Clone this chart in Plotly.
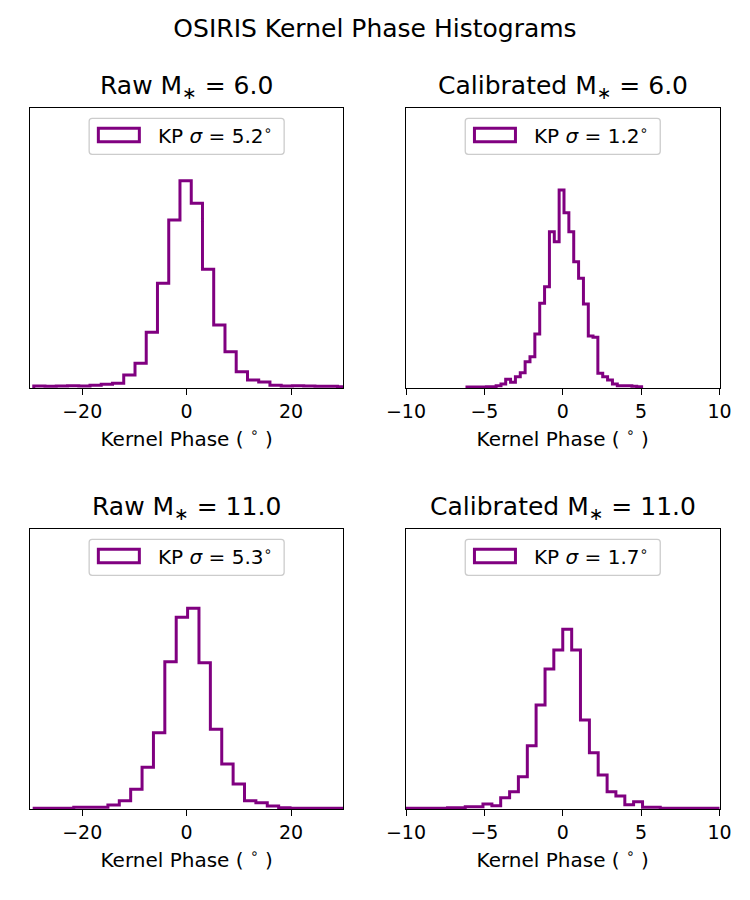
import plotly.graph_objects as go

# ---------------- data ----------------
# Raw M* = 6.0  (top-left)
raw6_edges = [-29.28, -27.13, -24.97, -22.82, -20.66, -18.51, -16.36, -14.20, -12.05, -9.89,
              -7.74, -5.59, -3.43, -1.28, 0.88, 3.03, 5.18, 7.34, 9.49, 11.65,
              13.80, 15.95, 18.11, 20.26, 22.42, 24.57, 26.72, 28.88, 31.03]
raw6_counts = [7, 6, 7, 8, 7, 9, 12, 15, 40, 75, 168, 315, 505, 623, 555, 357, 190, 110, 50, 25,
               19, 9, 7, 8, 7, 6, 6, 5]

# Calibrated M* = 6.0  (top-right)
cal6_edges = [-6.11, -5.80, -5.49, -5.18, -4.87, -4.56, -4.25, -3.94, -3.64, -3.33,
              -3.02, -2.71, -2.40, -2.09, -1.78, -1.47, -1.16, -0.85, -0.54, -0.23,
              0.08, 0.39, 0.70, 1.01, 1.32, 1.63, 1.93, 2.24, 2.55, 2.86,
              3.17, 3.48, 3.79, 4.10, 4.41, 4.72, 5.03]
cal6_counts = [4, 4, 4, 4, 5, 5, 8, 13, 27, 18, 35, 47, 80, 95, 163, 255, 305, 470, 440, 595,
               527, 470, 380, 330, 253, 157, 153, 45, 35, 25, 13, 8, 8, 8, 6, 5]

# Raw M* = 11.0  (bottom-left)
raw11_edges = [-29.20, -28.16, -25.98, -23.80, -21.62, -19.44, -17.26, -15.08, -12.90, -10.72,
               -8.54, -6.36, -4.18, -2.00, 0.18, 2.36, 4.54, 6.72, 8.90, 11.08,
               13.26, 15.44, 17.62, 19.80, 21.98, 24.16, 26.34, 28.52, 30.70]
raw11_counts = [3, 3, 3, 3, 6, 6, 6, 13, 26, 60, 126, 230, 443, 576, 603, 440, 240, 136, 76, 26,
                20, 10, 5, 3, 3, 3, 3, 3]

# Calibrated M* = 11.0  (bottom-right)
cal11_edges = [-10.17, -9.61, -9.04, -8.48, -7.91, -7.35, -6.78, -6.22, -5.65, -5.09,
               -4.52, -3.96, -3.39, -2.83, -2.26, -1.70, -1.13, -0.57, 0.00, 0.57,
               1.13, 1.70, 2.26, 2.83, 3.39, 3.96, 4.52, 5.09, 5.65, 6.22,
               6.78, 7.35, 7.91, 8.48, 9.04, 9.61, 10.17]
cal11_counts = [3, 3, 3, 3, 3, 5, 5, 8, 8, 16, 11, 35, 53, 98, 191, 313, 421, 478, 540, 478,
                268, 170, 103, 53, 40, 14, 23, 6, 6, 3, 3, 3, 3, 3, 3, 3]

panel_titles = ["Raw M<sub>∗</sub> = 6.0", "Calibrated M<sub>∗</sub> = 6.0",
                "Raw M<sub>∗</sub> = 11.0", "Calibrated M<sub>∗</sub> = 11.0"]
legend_labels = ["KP <i>σ</i> = 5.2<sup>∘</sup>", "KP <i>σ</i> = 1.2<sup>∘</sup>",
                 "KP <i>σ</i> = 5.3<sup>∘</sup>", "KP <i>σ</i> = 1.7<sup>∘</sup>"]
raw_ticks = [-20, 0, 20]
cal_ticks = [-10, -5, 0, 5, 10]

# ---------------- layout geometry (px) ----------------
W, H = 750, 900
FONT = "DejaVu Sans"
PURPLE = "#800080"
cols = [(30.0, 343.3), (406.0, 719.5)]
rows = [(107.7, 388.3), (528.7, 809.3)]
y_top = 842

panels = [
    (raw6_edges, raw6_counts, 0, 0, [-30, 30], raw_ticks),
    (cal6_edges, cal6_counts, 0, 1, [-10, 10], cal_ticks),
    (raw11_edges, raw11_counts, 1, 0, [-30, 30], raw_ticks),
    (cal11_edges, cal11_counts, 1, 1, [-10, 10], cal_ticks),
]

def px_x(x):
    return x / W

def px_y(y):
    return 1 - y / H

def tick_text(v):
    return ("−" + str(abs(v))) if v < 0 else str(v)

fig = go.Figure()
shapes = []
annotations = []

for i, (edges, counts, r, c, xr, ticks) in enumerate(panels):
    n = i + 1
    xa = "x" if n == 1 else f"x{n}"
    ya = "y" if n == 1 else f"y{n}"
    xs = [edges[0]] + edges[:-1] + [edges[-1]]
    ys = [0] + counts + [0]
    fig.add_trace(go.Scatter(x=xs, y=ys, mode="lines", line_shape="hv",
                             line=dict(color=PURPLE, width=3),
                             showlegend=False, hoverinfo="skip",
                             xaxis=xa, yaxis=ya))
    x0, x1 = cols[c]
    y0, y1 = rows[r]
    axis_common = dict(showline=True, mirror=True, linecolor="black", linewidth=1.3,
                       showgrid=False, zeroline=False, automargin=False)
    fig.update_layout(**{
        ("xaxis" if n == 1 else f"xaxis{n}"): dict(
            domain=[px_x(x0), px_x(x1)], range=xr, anchor=ya,
            tickmode="array", tickvals=ticks, ticktext=[tick_text(t) for t in ticks],
            ticks="outside", ticklen=6, tickwidth=1.3, tickcolor="black",
            tickfont=dict(family=FONT, size=19, color="black"),
            title=dict(text="Kernel Phase ( <sup>∘</sup> )", standoff=10,
                       font=dict(family=FONT, size=20, color="black")),
            **axis_common),
        ("yaxis" if n == 1 else f"yaxis{n}"): dict(
            domain=[px_y(y1), px_y(y0)], range=[0, y_top], anchor=xa,
            showticklabels=False, ticks="", **axis_common),
    })
    cx = (x0 + x1) / 2
    # subplot title
    annotations.append(dict(text=panel_titles[i], x=px_x(cx), y=px_y(y0 - 20.5),
                            xref="paper", yref="paper", showarrow=False,
                            xanchor="center", yanchor="middle",
                            font=dict(family=FONT, size=25, color="black")))
    # legend box (drawn)
    bx0, bx1 = cx - 97.5, cx + 97.5
    by0, by1 = y0 + 10.6, y0 + 46.6
    rr = 3
    path = (f"M {px_x(bx0 + rr)},{px_y(by0)} L {px_x(bx1 - rr)},{px_y(by0)} "
            f"Q {px_x(bx1)},{px_y(by0)} {px_x(bx1)},{px_y(by0 + rr)} "
            f"L {px_x(bx1)},{px_y(by1 - rr)} Q {px_x(bx1)},{px_y(by1)} {px_x(bx1 - rr)},{px_y(by1)} "
            f"L {px_x(bx0 + rr)},{px_y(by1)} Q {px_x(bx0)},{px_y(by1)} {px_x(bx0)},{px_y(by1 - rr)} "
            f"L {px_x(bx0)},{px_y(by0 + rr)} Q {px_x(bx0)},{px_y(by0)} {px_x(bx0 + rr)},{px_y(by0)} Z")
    shapes.append(dict(type="path", path=path, xref="paper", yref="paper",
                       line=dict(color="#cccccc", width=1.3),
                       fillcolor="rgba(255,255,255,0.8)"))
    shapes.append(dict(type="rect", xref="paper", yref="paper",
                       x0=px_x(bx0 + 9.2), x1=px_x(bx0 + 50.2),
                       y0=px_y(by0 + 9.9), y1=px_y(by0 + 23.5),
                       line=dict(color=PURPLE, width=3), fillcolor="rgba(0,0,0,0)"))
    annotations.append(dict(text=legend_labels[i], x=px_x(bx0 + 66.5), y=px_y(by0 + 17),
                            xref="paper", yref="paper", showarrow=False,
                            xanchor="left", yanchor="middle",
                            font=dict(family=FONT, size=20, color="black")))

fig.update_layout(
    width=W, height=H,
    margin=dict(l=0, r=0, t=0, b=0, pad=0, autoexpand=False),
    paper_bgcolor="white", plot_bgcolor="white",
    title=dict(text="OSIRIS Kernel Phase Histograms", x=0.5, xanchor="center",
               y=px_y(28), yanchor="middle", automargin=False,
               font=dict(family=FONT, size=25, color="black")),
    shapes=shapes, annotations=annotations,
    showlegend=False,
)

fig.write_html("out.html")
